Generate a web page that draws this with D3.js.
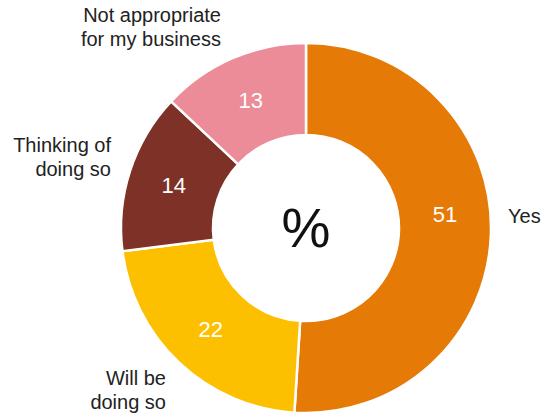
<!DOCTYPE html>
<html>
<head>
<meta charset="utf-8">
<script src="https://cdn.jsdelivr.net/npm/d3@7"></script>
<style>
  body { margin: 0; background: #fff; }
  text { font-family: "Liberation Sans", Arial, Helvetica, sans-serif; }
</style>
</head>
<body>
<div id="chart"></div>
<script>
// chart data
const categories = ["Yes", "Will be doing so", "Thinking of doing so", "Not appropriate for my business"];
const values = [51, 22, 14, 13];
const colors = ["#e57a07", "#fcc000", "#7d3127", "#ec8c98"];
// outer label lines
const labelLines = [["Yes"], ["Will be", "doing so"], ["Thinking of", "doing so"], ["Not appropriate", "for my business"]];

const width = 541;
const height = 414;
const cx = 306, cy = 228;
const outerR = 185, innerR = 93;

const svg = d3.select("#chart")
    .append("svg")
    .attr("width", width)
    .attr("height", height);

const g = svg.append("g")
    .attr("transform", `translate(${cx},${cy})`);

const data = categories.map((c, i) => ({ label: c, value: values[i], color: colors[i], lines: labelLines[i] }));

const pie = d3.pie()
    .value(d => d.value)
    .sort(null);

const arc = d3.arc()
    .innerRadius(innerR)
    .outerRadius(outerR);

const arcs = pie(data);

g.selectAll("path")
    .data(arcs)
    .join("path")
    .attr("d", arc)
    .attr("fill", d => d.data.color)
    .attr("stroke", "#fff")
    .attr("stroke-width", 2.5);

// values inside the ring
g.selectAll("text.val")
    .data(arcs)
    .join("text")
    .attr("class", "val")
    .attr("x", d => arc.centroid(d)[0])
    .attr("y", d => arc.centroid(d)[1] + (d.index === 0 ? -18 : 0))
    .attr("text-anchor", "middle")
    .attr("dominant-baseline", "central")
    .attr("fill", "#fff")
    .style("font-size", "22px")
    .text(d => d.data.value);

// centre symbol
g.append("text")
    .attr("x", 0)
    .attr("y", 0)
    .attr("text-anchor", "middle")
    .attr("dominant-baseline", "central")
    .attr("fill", "#111")
    .style("font-size", "55px")
    .text("%");

// outer labels (anchor point relative to centre, per slice)
const labelPos = [
    { x: 202, y: -12, anchor: "start" },
    { x: -140, y: 150, anchor: "end" },
    { x: -195, y: -83, anchor: "end" },
    { x: -85, y: -213, anchor: "end" }
];

const lineH = 23.5;
data.forEach((d, i) => {
    const p = labelPos[i];
    const t = g.append("text")
        .attr("text-anchor", p.anchor)
        .attr("fill", "#222")
        .style("font-size", "20px");
    d.lines.forEach((ln, j) => {
        t.append("tspan")
            .attr("x", p.x)
            .attr("y", p.y + j * lineH)
            .attr("dominant-baseline", "central")
            .text(ln);
    });
});
</script>
</body>
</html>
